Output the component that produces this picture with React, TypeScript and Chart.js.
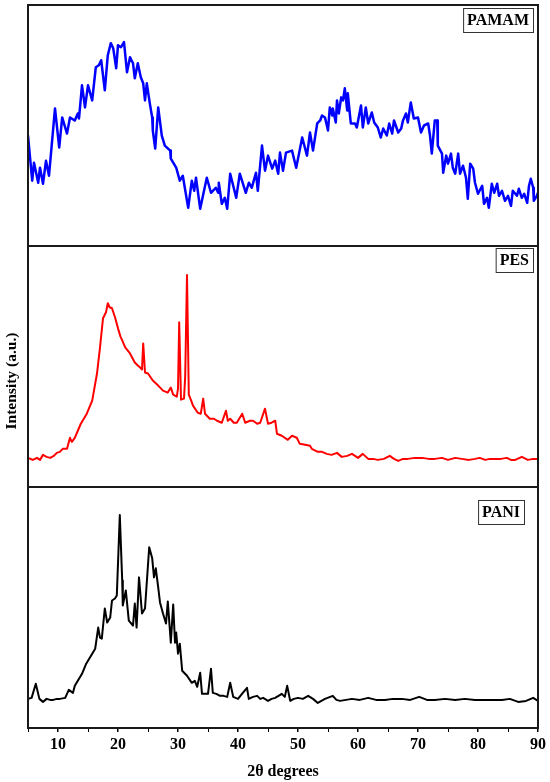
import React, { useEffect, useRef } from "react";
import { Chart, registerables } from "chart.js";

Chart.register(...registerables);

// 2θ (degrees), intensity (a.u.)
const PAMAM: [number, number][] = [
  [5.0, 110], [5.7, 65], [6.0, 83], [6.7, 63], [7.0, 78], [7.5, 62], [8.0, 85], [8.5, 70],
  [9.5, 137], [10.2, 98], [10.7, 128], [11.5, 112], [12.0, 128], [12.8, 125], [13.3, 132], [13.5, 127],
  [14.0, 160], [14.5, 138], [15.0, 160], [15.7, 145], [16.3, 178], [16.8, 180], [17.2, 185], [17.8, 155],
  [18.3, 190], [18.8, 202], [19.2, 197], [19.7, 177], [20.0, 200], [20.5, 198], [21.0, 203], [21.5, 173],
  [22.0, 188], [22.5, 182], [22.8, 167], [23.3, 182], [23.8, 168], [24.2, 162], [24.5, 145], [24.8, 162],
  [25.3, 142], [25.7, 128], [25.8, 115], [26.2, 97], [26.7, 138], [27.3, 110], [27.8, 100], [28.7, 95],
  [28.8, 87], [29.7, 78], [30.3, 65], [30.8, 70], [31.7, 38], [32.3, 65], [32.7, 55], [33.0, 68],
  [33.7, 37], [34.8, 68], [35.5, 53], [36.3, 58], [36.7, 53], [36.8, 63], [37.3, 42], [37.8, 48],
  [38.2, 37], [38.7, 72], [39.7, 48], [40.3, 72], [41.3, 53], [41.8, 63], [42.3, 58], [43.0, 73],
  [43.3, 55], [44.0, 100], [44.5, 75], [45.0, 90], [45.7, 77], [46.2, 85], [46.7, 72], [47.0, 93],
  [47.5, 75], [48.0, 93], [49.0, 95], [49.7, 78], [50.7, 108], [51.5, 90], [52.0, 113], [52.5, 95],
  [53.2, 122], [53.7, 125], [54.0, 130], [54.5, 128], [55.0, 115], [55.3, 138], [55.7, 130], [55.8, 137],
  [56.3, 123], [56.5, 145], [56.8, 132], [57.2, 148], [57.5, 145], [57.8, 157], [58.2, 135], [58.3, 152],
  [58.8, 122], [59.5, 122], [59.8, 118], [60.5, 140], [60.8, 118], [61.3, 138], [61.7, 122], [62.3, 133],
  [62.7, 123], [63.3, 118], [63.8, 108], [64.2, 117], [64.8, 110], [65.2, 122], [65.7, 112], [66.0, 125],
  [66.7, 113], [67.2, 117], [67.5, 125], [68.0, 132], [68.3, 123], [68.8, 143], [69.3, 127], [70.0, 128],
  [70.5, 113], [71.0, 120], [71.7, 122], [72.0, 110], [72.3, 92], [72.8, 125], [73.2, 125], [73.3, 100],
  [74.0, 92], [74.2, 73], [74.7, 90], [75.0, 82], [75.5, 92], [75.8, 78], [76.2, 72], [76.7, 92],
  [77.0, 72], [77.5, 80], [78.0, 68], [78.3, 47], [78.7, 82], [79.2, 77], [79.5, 63], [80.0, 52],
  [80.7, 60], [81.0, 42], [81.5, 48], [81.8, 38], [82.3, 62], [82.7, 53], [83.2, 62], [83.5, 50],
  [84.0, 55], [84.5, 45], [85.0, 50], [85.5, 40], [85.8, 55], [86.5, 50], [86.8, 57], [87.3, 48],
  [87.7, 52], [88.2, 43], [88.5, 60], [88.8, 67], [89.2, 58], [89.3, 45], [89.8, 50], [90.0, 53],
];

const PES: [number, number][] = [
  [5.0, 29], [5.8, 27], [6.5, 29], [7.0, 27], [7.5, 32], [8.1, 30], [8.7, 29], [9.3, 31],
  [9.8, 34], [10.3, 35], [10.8, 38], [11.5, 38], [12.0, 49], [12.3, 45], [12.8, 49], [13.3, 56],
  [13.8, 63], [14.8, 73], [15.7, 86], [16.5, 113], [17.0, 139], [17.5, 168], [18.0, 174], [18.3, 183],
  [18.6, 179], [19.0, 178], [19.5, 169], [20.0, 158], [20.4, 150], [20.7, 146], [21.2, 139], [22.0, 133],
  [22.8, 124], [23.3, 121], [23.7, 119], [24.0, 117], [24.2, 143], [24.5, 114], [25.0, 113], [25.8, 106],
  [26.7, 101], [27.5, 96], [28.3, 94], [28.8, 99], [29.2, 92], [29.8, 90], [30.0, 98], [30.2, 164],
  [30.5, 87], [31.0, 88], [31.2, 110], [31.5, 211], [31.8, 92], [32.2, 86], [32.5, 81], [33.3, 74],
  [33.8, 73], [34.2, 88], [34.5, 73], [35.3, 68], [36.0, 68], [36.5, 66], [37.3, 64], [38.0, 76],
  [38.3, 66], [38.7, 68], [39.3, 64], [39.8, 64], [40.7, 73], [41.2, 64], [42.0, 66], [42.5, 66],
  [43.2, 63], [43.7, 64], [44.5, 78], [45.0, 63], [45.6, 64], [46.2, 66], [46.5, 53], [47.3, 51],
  [48.3, 47], [49.0, 51], [49.8, 49], [50.3, 43], [51.2, 42], [52.0, 41], [52.3, 38], [53.3, 35],
  [54.0, 35], [54.8, 33], [55.6, 32], [56.5, 34], [57.3, 30], [58.2, 31], [59.0, 33], [60.0, 29],
  [60.8, 33], [61.7, 28], [62.5, 28], [63.3, 27], [64.3, 28], [65.3, 31], [66.0, 28], [66.7, 26],
  [67.5, 28], [68.3, 28], [69.5, 29], [70.7, 29], [71.8, 28], [72.8, 28], [74.0, 29], [75.0, 27],
  [76.2, 29], [77.3, 28], [78.5, 27], [79.5, 28], [80.3, 29], [81.2, 27], [82.0, 28], [82.8, 28],
  [83.8, 28], [84.8, 29], [85.5, 27], [86.2, 27], [87.3, 30], [88.3, 27], [89.2, 28], [90.0, 28],
];

const PANI: [number, number][] = [
  [5.0, 29], [5.6, 30], [6.3, 44], [6.9, 29], [7.5, 26], [8.1, 29], [8.7, 28], [9.2, 28],
  [9.8, 29], [10.3, 29], [11.2, 30], [11.8, 38], [12.5, 35], [12.8, 42], [13.3, 47], [14.0, 54],
  [14.7, 64], [15.3, 70], [16.2, 79], [16.7, 100], [17.0, 90], [17.3, 89], [17.8, 119], [18.2, 105],
  [18.7, 110], [19.0, 127], [19.5, 129], [19.8, 132], [20.3, 212], [20.7, 147], [20.8, 122], [21.3, 137],
  [21.8, 107], [22.5, 102], [22.8, 124], [23.1, 100], [23.5, 150], [24.0, 114], [24.5, 119], [25.2, 180],
  [25.7, 169], [26.0, 150], [26.3, 159], [26.7, 140], [27.0, 125], [27.5, 114], [28.0, 104], [28.3, 126],
  [28.8, 85], [29.2, 123], [29.5, 85], [29.7, 95], [30.0, 74], [30.3, 84], [30.7, 57], [31.5, 52],
  [32.3, 45], [32.8, 47], [33.2, 41], [33.7, 55], [34.0, 34], [35.0, 34], [35.5, 59], [35.8, 35],
  [36.4, 34], [37.0, 32], [37.6, 32], [38.2, 31], [38.7, 45], [39.2, 31], [40.0, 29], [40.8, 35],
  [41.5, 40], [41.8, 29], [42.5, 31], [43.2, 32], [43.7, 29], [44.2, 30], [45.0, 27], [45.6, 29],
  [46.2, 30], [47.3, 34], [47.8, 31], [48.2, 42], [48.7, 27], [49.3, 29], [50.0, 30], [50.8, 29],
  [51.7, 32], [52.5, 29], [53.3, 25], [54.5, 29], [55.8, 32], [56.4, 28], [57.0, 27], [58.0, 28],
  [59.0, 29], [60.3, 28], [61.7, 30], [63.0, 28], [64.5, 28], [65.8, 29], [67.3, 29], [68.7, 28],
  [70.2, 31], [71.5, 28], [72.8, 28], [74.5, 29], [76.2, 28], [77.8, 29], [79.5, 28], [81.2, 28],
  [82.8, 28], [84.0, 28], [85.3, 29], [86.7, 26], [88.0, 27], [89.2, 30], [90.0, 27],
];

const PANEL_LABELS = ["PAMAM", "PES", "PANI"];
const X_TICKS = [10, 20, 30, 40, 50, 60, 70, 80, 90];
const X_TITLE = "2θ degrees";
const Y_TITLE = "Intensity (a.u.)";

const SERIF = '"Liberation Serif", "Times New Roman", serif';

const toPts = (arr: [number, number][]) => arr.map(([x, y]) => ({ x, y }));

const framePlugin = {
  id: "xrdFrames",
  afterDatasetsDraw(chart: any) {
    const { ctx, chartArea } = chart;
    const ids = ["yTop", "yMid", "yBot"];
    const insets = [
      { right: 5, top: 3 },
      { right: 5, top: 2 },
      { right: 14, top: 13 },
    ];
    ctx.save();
    ctx.strokeStyle = "#1a1a1a";
    ctx.lineWidth = 2;
    ids.forEach((id) => {
      const s = chart.scales[id];
      ctx.strokeRect(chartArea.left, s.top, chartArea.right - chartArea.left, s.bottom - s.top);
    });
    ctx.font = `bold 16px ${SERIF}`;
    ctx.textAlign = "center";
    ctx.textBaseline = "middle";
    ids.forEach((id, i) => {
      const s = chart.scales[id];
      const text = PANEL_LABELS[i];
      const w = ctx.measureText(text).width + 8;
      const h = 24;
      const right = chartArea.right - insets[i].right;
      const top = s.top + insets[i].top;
      ctx.fillStyle = "#ffffff";
      ctx.fillRect(right - w, top, w, h);
      ctx.strokeStyle = "#333333";
      ctx.lineWidth = 1;
      ctx.strokeRect(right - w + 0.5, top + 0.5, w, h);
      ctx.fillStyle = "#000000";
      ctx.fillText(text, right - w / 2, top + h / 2 + 1);
    });
    ctx.translate(12, 381);
    ctx.rotate(-Math.PI / 2);
    ctx.font = `bold 15.5px ${SERIF}`;
    ctx.fillStyle = "#000000";
    ctx.fillText(Y_TITLE, 0, 0);
    ctx.restore();
  },
};

export default function App() {
  const ref = useRef<HTMLCanvasElement | null>(null);
  useEffect(() => {
    if (!ref.current) return;
    const yCommon = { display: false, min: 0, max: 240, stack: "xrd", stackWeight: 1, offset: false };
    const chart = new Chart(ref.current, {
      type: "line",
      data: {
        datasets: [
          { label: "PANI", data: toPts(PANI), yAxisID: "yBot", borderColor: "#000000", borderWidth: 2, pointRadius: 0, tension: 0 },
          { label: "PES", data: toPts(PES), yAxisID: "yMid", borderColor: "#ff0000", borderWidth: 2, pointRadius: 0, tension: 0 },
          { label: "PAMAM", data: toPts(PAMAM), yAxisID: "yTop", borderColor: "#0000ff", borderWidth: 2.5, pointRadius: 0, tension: 0 },
        ],
      },
      options: {
        animation: false,
        responsive: true,
        maintainAspectRatio: false,
        layout: { padding: { left: 28, right: 12, top: 5, bottom: 0.6 } },
        plugins: { legend: { display: false }, tooltip: { enabled: false } },
        elements: { line: { borderJoinStyle: "round", borderCapStyle: "round" } },
        scales: {
          x: {
            type: "linear",
            position: "bottom",
            min: 5,
            max: 90,
            border: { display: false },
            grid: {
              drawOnChartArea: false,
              drawTicks: true,
              tickLength: 4,
              color: "#000000",
              lineWidth: (c: any) => (c.tick && X_TICKS.includes(Number(c.tick.value)) ? 1.5 : 1),
            },
            ticks: {
              stepSize: 5,
              autoSkip: false,
              maxRotation: 0,
              padding: 3,
              color: "#000000",
              font: { family: SERIF, size: 16, weight: "bold" },
              callback: (v: any) => (X_TICKS.includes(Number(v)) ? String(v) : ""),
            },
            title: {
              display: true,
              text: X_TITLE,
              color: "#000000",
              font: { family: SERIF, size: 16, weight: "bold" },
              padding: { top: 5, bottom: 0 },
            },
          },
          yBot: { ...yCommon, position: "left" },
          yMid: { ...yCommon, position: "left" },
          yTop: { ...yCommon, position: "left" },
        } as any,
      },
      plugins: [framePlugin],
    } as any);
    return () => chart.destroy();
  }, []);
  return (
    <div style={{ position: "absolute", left: 0, top: 0, width: 550, height: 782, background: "#fff" }}>
      <canvas ref={ref} />
    </div>
  );
}
